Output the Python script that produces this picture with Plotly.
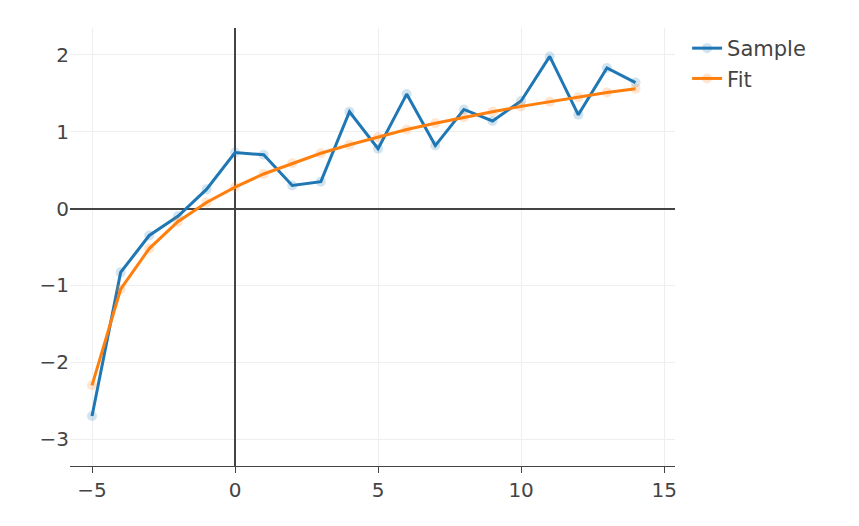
import plotly.graph_objects as go

x_vals = list(range(-5, 15))
sample = [-2.7, -0.83, -0.35, -0.1, 0.25, 0.73, 0.7, 0.3, 0.35, 1.26,
          0.78, 1.49, 0.82, 1.29, 1.14, 1.4, 1.98, 1.22, 1.83, 1.64]
fit = [-2.3, -1.05, -0.52, -0.17, 0.08, 0.28, 0.45, 0.59, 0.72, 0.83,
       0.93, 1.03, 1.11, 1.19, 1.26, 1.33, 1.39, 1.45, 1.51, 1.56]

fig = go.Figure()
for name, ys, color in [("Sample", sample, "#1f77b4"), ("Fit", fit, "#ff7f0e")]:
    fig.add_trace(go.Scatter(
        x=x_vals, y=ys, mode="lines+markers", name=name,
        line=dict(color=color, width=3),
        marker=dict(color=color, size=10, opacity=0.2),
    ))

fig.update_layout(
    template="plotly_white",
    width=859, height=526,
    margin=dict(l=62, r=192, t=20, b=68, autoexpand=False),
    font=dict(family="DejaVu Sans, sans-serif", size=20, color="#444"),
    legend=dict(x=1.02, y=1.0, font=dict(size=21)),
)
fig.update_xaxes(range=[-5.77, 15.38], zeroline=True, zerolinecolor="#444",
                 zerolinewidth=1.5, gridcolor="#eee", showline=True, linecolor="#444",
                 ticks="outside", ticklen=6, tickcolor="#444", dtick=5, automargin=False)
fig.update_yaxes(range=[-3.35, 2.35], zeroline=True, zerolinecolor="#444",
                 zerolinewidth=1.5, gridcolor="#eee", dtick=1, automargin=False)

fig.write_html("out.html")
